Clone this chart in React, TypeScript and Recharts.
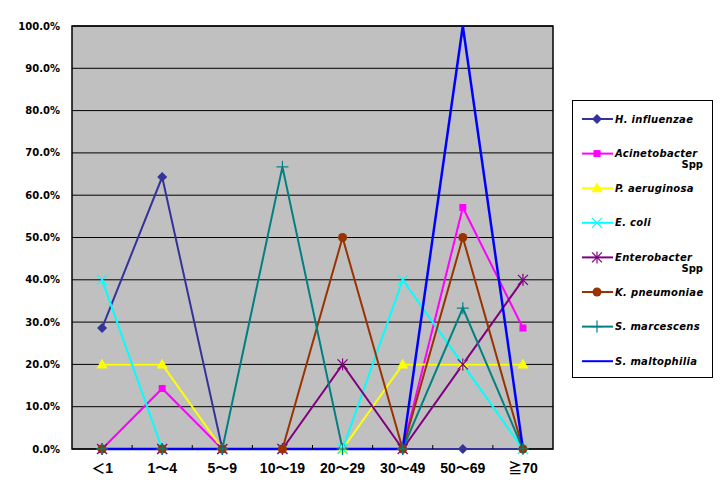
import React from 'react';
import { LineChart, Line, XAxis, YAxis, CartesianGrid, Legend, ReferenceArea } from 'recharts';

// age groups and share of isolates (%) per organism
const ageGroups = ['＜1', '1～4', '5～9', '10～19', '20～29', '30～49', '50～69', '≧70'];
const hInfluenzae = [28.6, 64.3, 0, 0, 0, 0, 0, 0];
const acinetobacter = [0, 14.3, 0, 0, 0, 0, 57.1, 28.6];
const pAeruginosa = [20, 20, 0, 0, 0, 20, 20, 20];
const eColi = [40, 0, 0, 0, 0, 40, 20, 0];
const enterobacter = [0, 0, 0, 0, 20, 0, 20, 40];
const kPneumoniae = [0, 0, 0, 0, 50, 0, 50, 0];
const sMarcescens = [0, 0, 0, 66.7, 0, 0, 33.3, 0];
const sMaltophilia = [0, 0, 0, 0, 0, 0, 100, 0];

const yTicks = [0, 10, 20, 30, 40, 50, 60, 70, 80, 90, 100];

type MarkerType = 'diamond' | 'square' | 'triangle' | 'x' | 'star' | 'circle' | 'plus' | 'none';

interface Series {
  key: string;
  name: string;
  suffix: string;
  color: string;
  marker: MarkerType;
  width: number;
  values: number[];
}

const series: Series[] = [
  { key: 'hInfluenzae', name: 'H. influenzae', suffix: '', color: '#333399', marker: 'diamond', width: 2, values: hInfluenzae },
  { key: 'acinetobacter', name: 'Acinetobacter', suffix: 'Spp', color: '#FF00FF', marker: 'square', width: 2, values: acinetobacter },
  { key: 'pAeruginosa', name: 'P. aeruginosa', suffix: '', color: '#FFFF00', marker: 'triangle', width: 2, values: pAeruginosa },
  { key: 'eColi', name: 'E. coli', suffix: '', color: '#00FFFF', marker: 'x', width: 2, values: eColi },
  { key: 'enterobacter', name: 'Enterobacter', suffix: 'Spp', color: '#800080', marker: 'star', width: 2, values: enterobacter },
  { key: 'kPneumoniae', name: 'K. pneumoniae', suffix: '', color: '#993300', marker: 'circle', width: 2, values: kPneumoniae },
  { key: 'sMarcescens', name: 'S. marcescens', suffix: '', color: '#008080', marker: 'plus', width: 2, values: sMarcescens },
  { key: 'sMaltophilia', name: 'S. maltophilia', suffix: '', color: '#0000FF', marker: 'none', width: 2.5, values: sMaltophilia },
];

const data = ageGroups.map((age, i) => {
  const row: Record<string, string | number> = { age };
  series.forEach((s) => {
    row[s.key] = s.values[i];
  });
  return row;
});

const X_TICK_MARGIN = 14;

function Marker({ type, cx, cy, color }: { type: MarkerType; cx: number; cy: number; color: string }) {
  switch (type) {
    case 'diamond':
      return <polygon points={`${cx},${cy - 5} ${cx + 5},${cy} ${cx},${cy + 5} ${cx - 5},${cy}`} fill={color} />;
    case 'square':
      return <rect x={cx - 3.5} y={cy - 3.5} width={7} height={7} fill={color} />;
    case 'triangle':
      return <polygon points={`${cx},${cy - 6} ${cx + 5.5},${cy + 4} ${cx - 5.5},${cy + 4}`} fill={color} />;
    case 'x':
      return (
        <g stroke={color} strokeWidth={1.2}>
          <line x1={cx - 5} y1={cy - 5} x2={cx + 5} y2={cy + 5} />
          <line x1={cx - 5} y1={cy + 5} x2={cx + 5} y2={cy - 5} />
        </g>
      );
    case 'star':
      return (
        <g stroke={color} strokeWidth={1.2}>
          <line x1={cx - 5} y1={cy - 5} x2={cx + 5} y2={cy + 5} />
          <line x1={cx - 5} y1={cy + 5} x2={cx + 5} y2={cy - 5} />
          <line x1={cx} y1={cy - 6} x2={cx} y2={cy + 6} />
        </g>
      );
    case 'circle':
      return <circle cx={cx} cy={cy} r={4.5} fill={color} />;
    case 'plus':
      return (
        <g stroke={color} strokeWidth={1.2}>
          <line x1={cx - 6} y1={cy} x2={cx + 6} y2={cy} />
          <line x1={cx} y1={cy - 6} x2={cx} y2={cy + 6} />
        </g>
      );
    default:
      return null;
  }
}

// category label plus a small inward tick at the left boundary of each band
function AgeTick(props: any) {
  const { x, y, payload, index } = props;
  const axisY = y - X_TICK_MARGIN;
  const half = payload.offset ?? 0;
  return (
    <g>
      {index > 0 && half > 0 && (
        <line x1={x - half} y1={axisY} x2={x - half} y2={axisY - 4} stroke="#000" strokeWidth={1} />
      )}
      <text
        x={x}
        y={y}
        dy="0.71em"
        textAnchor="middle"
        fill="#000"
        fontSize={14}
        fontWeight="bold"
        fontFamily="Liberation Sans, Noto Sans CJK JP"
      >
        {payload.value}
      </text>
    </g>
  );
}

function LegendBox() {
  return (
    <svg width={142} height={279} style={{ display: 'block' }}>
      <rect x={0.5} y={0.5} width={140} height={277} fill="#fff" stroke="#000" />
      {series.map((s, i) => {
        const y = 19 + i * 34.6;
        return (
          <g key={s.key}>
            <line x1={10} y1={y} x2={41} y2={y} stroke={s.color} strokeWidth={2} />
            <Marker type={s.marker} cx={25} cy={y} color={s.color} />
            <text
              x={43}
              y={y + 3.5}
              fontFamily="DejaVu Sans"
              fontSize={10}
              fontWeight="bold"
              fontStyle="italic"
              letterSpacing={0.3}
              fill="#000"
            >
              {s.name}
            </text>
            {s.suffix && (
              <text x={131} y={y + 14.5} textAnchor="end" fontFamily="DejaVu Sans" fontSize={10} fontWeight="bold" fill="#000">
                {s.suffix}
              </text>
            )}
          </g>
        );
      })}
    </svg>
  );
}

export default function App() {
  return (
    <div style={{ position: 'absolute', left: 0, top: 0, width: 728, height: 493, background: '#fff' }}>
      <LineChart width={728} height={493} data={data} margin={{ top: 26, right: 175, bottom: 14, left: 0 }}>
        <CartesianGrid vertical={false} stroke="#000" fill="#C0C0C0" fillOpacity={1} />
        <XAxis
          dataKey="age"
          scale="band"
          height={30}
          interval={0}
          axisLine={false}
          tickLine={false}
          tickSize={0}
          tickMargin={X_TICK_MARGIN}
          tick={<AgeTick />}
        />
        <YAxis
          domain={[0, 100]}
          ticks={yTicks}
          width={72}
          axisLine={false}
          tickLine={false}
          tickMargin={6}
          tickFormatter={(v: number) => `${v.toFixed(1)}%`}
          tick={{ fill: '#000', fontSize: 10, fontWeight: 'bold', fontFamily: 'DejaVu Sans' }}
        />
        <ReferenceArea y1={0} y2={100} fill="none" stroke="#000" strokeWidth={1.5} />
        {series.map((s) => (
          <Line
            key={s.key}
            dataKey={s.key}
            name={s.name}
            type="linear"
            stroke={s.color}
            strokeWidth={s.width}
            isAnimationActive={false}
            dot={
              s.marker === 'none'
                ? false
                : (p: any) => <Marker key={`${s.key}-${p.index}`} type={s.marker} cx={p.cx} cy={p.cy} color={s.color} />
            }
            activeDot={false}
          />
        ))}
        <Legend
          align="center"
          verticalAlign="middle"
          content={() => <LegendBox />}
          wrapperStyle={{ left: 572, top: 100, width: 142, height: 279 }}
        />
      </LineChart>
    </div>
  );
}
